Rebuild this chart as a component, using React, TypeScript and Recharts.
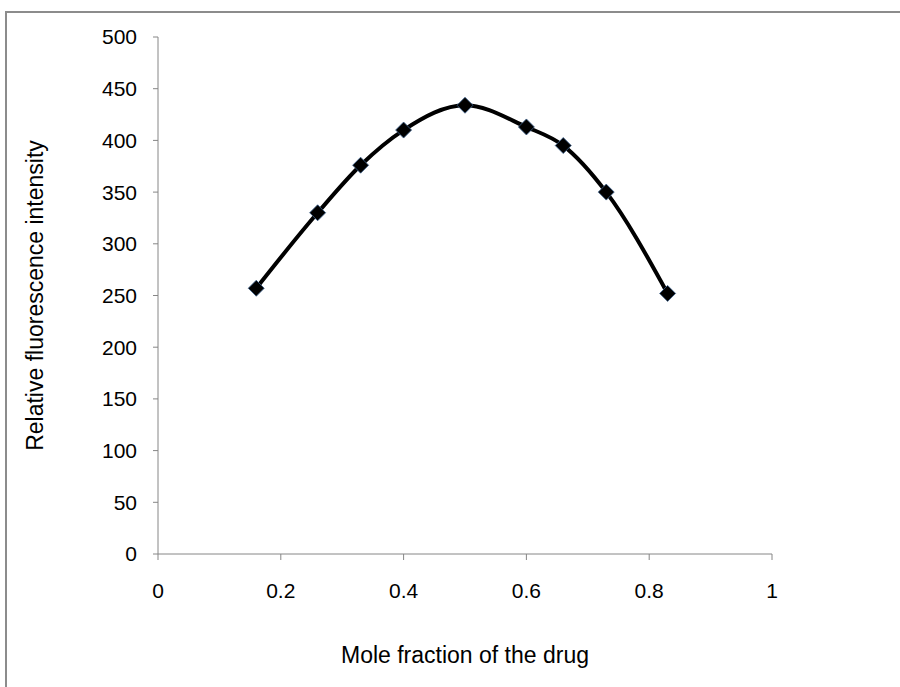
import React from 'react';
import { LineChart, Line, XAxis, YAxis, Label } from 'recharts';

// mole fraction of the drug vs relative fluorescence intensity
const moleFraction = [0.16, 0.26, 0.33, 0.4, 0.5, 0.6, 0.66, 0.73, 0.83];
const intensity = [257, 330, 376, 410, 434, 413, 395, 350, 252];
const xTicks = [0, 0.2, 0.4, 0.6, 0.8, 1];
const yTicks = [0, 50, 100, 150, 200, 250, 300, 350, 400, 450, 500];

const data = moleFraction.map((x, i) => ({ x, y: intensity[i] }));

const FONT = '"Liberation Sans", Arial, sans-serif';
const AXIS_COLOR = '#868686';

const Diamond = (props: any) => {
  const { cx, cy } = props;
  if (cx == null || cy == null) return null;
  const r = 8;
  return (
    <path
      d={`M${cx},${cy - r} L${cx + r},${cy} L${cx},${cy + r} L${cx - r},${cy} Z`}
      fill="#000"
      stroke="#3b5f8c"
      strokeWidth={0.8}
    />
  );
};

const App: React.FC = () => {
  return (
    <div style={{ position: 'absolute', left: 0, top: 0, width: 900, height: 687, background: '#fff', overflow: 'hidden' }}>
      {/* outer chart frame, only top/left visible in the original */}
      <div
        style={{
          position: 'absolute', left: 5, top: 11, width: 1000, height: 1000,
          borderTop: '2px solid #8c8c8c', borderLeft: '2px solid #8c8c8c',
        }}
      />
      <div style={{ position: 'absolute', left: 0, top: 0 }}>
        <LineChart width={900} height={687} data={data} margin={{ top: 37, right: 128, bottom: 0, left: 0 }}>
          <XAxis
            type="number"
            dataKey="x"
            domain={[0, 1]}
            ticks={xTicks}
            tickFormatter={(v: number) => String(v)}
            stroke={AXIS_COLOR}
            tickSize={6}
            tickMargin={23}
            height={133}
            tick={{ fill: '#000', fontSize: 21, fontFamily: FONT }}
          >
            <Label
              value="Mole fraction of the drug"
              position="insideBottom"
              offset={24}
              style={{ fill: '#000', fontSize: 23, fontFamily: FONT }}
            />
          </XAxis>
          <YAxis
            type="number"
            dataKey="y"
            domain={[0, 500]}
            ticks={yTicks}
            stroke={AXIS_COLOR}
            tickSize={5}
            tickMargin={16}
            width={158}
            tick={{ fill: '#000', fontSize: 21, fontFamily: FONT }}
          >
            <Label
              value="Relative fluorescence intensity"
              angle={-90}
              position="insideLeft"
              offset={35}
              style={{ fill: '#000', fontSize: 23, fontFamily: FONT, textAnchor: 'middle' }}
            />
          </YAxis>
          <Line
            type="monotone"
            dataKey="y"
            stroke="#000"
            strokeWidth={4}
            dot={<Diamond />}
            activeDot={false}
            isAnimationActive={false}
          />
        </LineChart>
      </div>
    </div>
  );
};

export default App;
